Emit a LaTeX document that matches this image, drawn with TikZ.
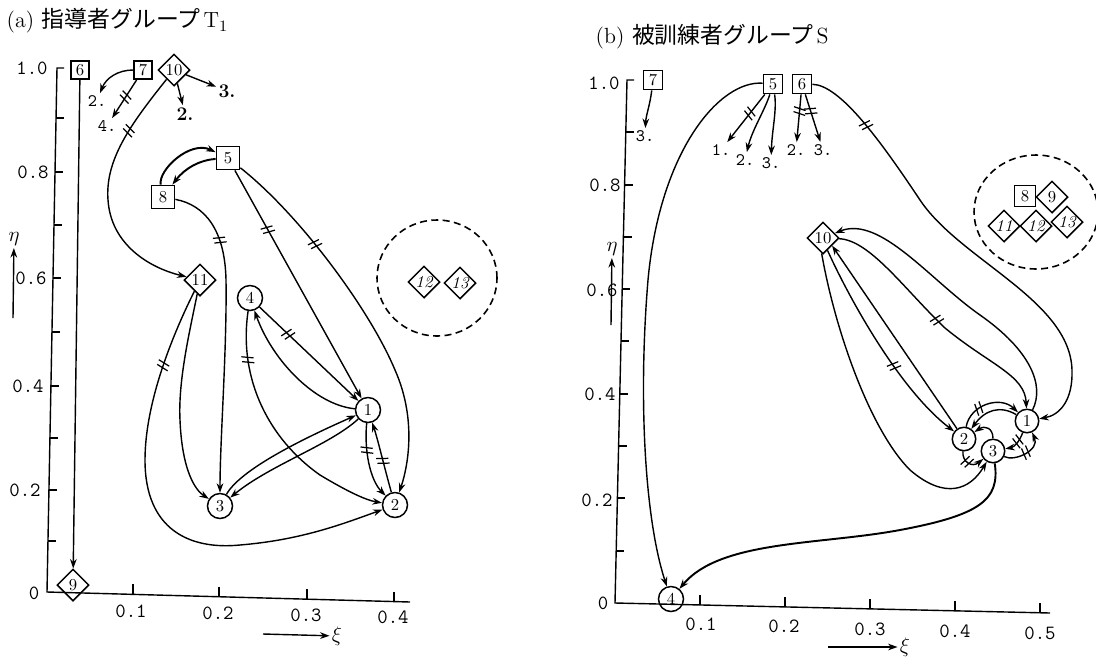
\documentclass[tikz,border=0pt]{standalone}
\usepackage{fontspec}
\newfontfamily\cjk{Noto Sans CJK JP}
\usetikzlibrary{arrows.meta,shapes.geometric,decorations.markings}
\begin{document}
\begin{tikzpicture}[x=0.02cm,y=-0.02cm,line width=0.8pt,
  >={Stealth[length=5.4pt,width=3.8pt]},
  nd/.style={draw,line width=0.85pt,inner sep=0pt,font=\fontsize{9.5}{10}\selectfont},
  circ/.style={nd,circle,minimum size=0.5cm},
  circs/.style={nd,circle,minimum size=0.47cm},
  sqbig/.style={nd,rectangle,minimum size=0.46cm,line width=1pt},
  sqmid/.style={nd,rectangle,minimum size=0.42cm,line width=1pt},
  sqsm/.style={nd,rectangle,minimum size=0.36cm,line width=1pt},
  dia/.style={nd,diamond,minimum size=0.64cm},
  itdia/.style={dia,font=\fontsize{9.5}{10}\selectfont\itshape},
  dashring/.style={draw,ellipse,dashed,dash pattern=on 4pt off 2.5pt,line width=0.9pt,inner sep=0pt},
  ttl/.style={inner sep=1pt,font=\ttfamily\fontsize{10}{10}\selectfont},
  bdl/.style={inner sep=1pt,font=\bfseries\fontsize{11}{11}\selectfont},
  axl/.style={inner sep=0pt,font=\ttfamily\fontsize{11.5}{11.5}\selectfont},
  greek/.style={inner sep=1pt,font=\fontsize{12}{12}\selectfont},
  thick arc/.style={line width=1.1pt},
  hashmk/.style={postaction={decorate,decoration={markings,
     mark=at position #1 with {\draw[-,line width=0.7pt] (-2.2pt,-3.4pt)--(-0.6pt,3.4pt) (0.6pt,-3.4pt)--(2.2pt,3.4pt);}}}}
]
\useasboundingbox (0,0) rectangle (1096,657);

% ---------------- titles ----------------
\node[anchor=west,inner sep=0pt,font=\fontsize{12.5}{14}\selectfont] (tA) at (6,21)
  {(a)\hspace{0.35em}{\cjk\fontsize{13}{14}\selectfont 指導者グループ}\hspace{0.15em}$\mathrm{T}_1$};
\node[anchor=west,inner sep=0pt,font=\fontsize{12.5}{14}\selectfont] (tB) at (595,37)
  {(b)\hspace{0.35em}{\cjk\fontsize{13}{14}\selectfont 被訓練者グループ}\hspace{0.15em}S};

% ---------------- axes (a) ----------------
\draw (64,68) -- (57,68) -- (47,592) -- (410,602);
\foreach \yy/\xx in {118/56,172/55,225/54,278/53,332/52,386/51,438/50,490/49,541/48}
  \draw (\xx,\yy) -- ++(8,0);
\foreach \xx/\yy in {133/594.4,219/596.7,307/599.2,394/601.6}
  \draw (\xx,\yy) -- ++(0,-10);
\node[axl] (ya10) at (32,68) {1.0};
\node[axl] (ya08) at (33,172) {0.8};
\node[axl] (ya06) at (31,278) {0.6};
\node[axl] (ya04) at (28,386) {0.4};
\node[axl] (ya02) at (25,490) {0.2};
\node[axl] (ya00) at (34,593) {0};
\node[axl] (xa01) at (131,611) {0.1};
\node[axl] (xa02) at (218,613) {0.2};
\node[axl] (xa03) at (306,615) {0.3};
\node[axl] (xa04) at (393,617) {0.4};
\node[greek] (etaA) at (14,239) {$\eta$};
\coordinate (etaA0) at (13,318);
\draw[->] (etaA0) -- (etaA);
\node[greek] (xiA) at (337,636) {$\xi$};
\coordinate (xiA0) at (263,634);
\draw[->] (xiA0) -- (xiA);

% ---------------- nodes (a) ----------------
\node[circ] (a1) at (368,410) {1};
\node[circ] (a2) at (395,505) {2};
\node[circ] (a3) at (220,506) {3};
\node[circ] (a4) at (250,298) {4};
\node[sqbig] (a5) at (228,158) {5};
\node[sqbig] (a8) at (163,197) {8};
\node[sqsm] (a6) at (80,70) {6};
\node[sqsm] (a7) at (143,70) {7};
\node[dia] (a10) at (174,70) {10};
\node[dia] (a11) at (200,280) {11};
\node[dia] (a9) at (73,585) {9};
\node[dashring,minimum width=2.4cm,minimum height=2.32cm] (ca) at (437,278) {};
\node[itdia] (a12) at (424,282) {12};
\node[itdia] (a13) at (460,283) {13};

\node[ttl] (la72) at (97,101) {2.};
\node[ttl] (la74) at (107,126) {4.};
\node[bdl] (la102) at (185,114) {2.};
\node[bdl] (la103) at (227,91) {3.};

% ---------------- edges (a) ----------------
\draw[->] (a6) -- (a9);
\draw[->] (a7) .. controls (118,70) and (106,78) .. (la72);
\draw[->,hashmk=0.45] (a7) -- (la74);
\draw[->] (a10) -- (la102);
\draw[->] (a10) -- (la103);
\draw[->,hashmk=0.25] (a10) .. controls (130,125) and (105,160) .. (108,200)
   .. controls (111,245) and (150,268) .. (a11);
\draw[->,thick arc] (a8) .. controls (158,170) and (190,140) .. (a5);
\draw[->,thick arc] (a5) .. controls (200,160) and (185,168) .. (a8);
\draw[->,hashmk=0.2] (a8) .. controls (205,205) and (225,230) .. (226,280)
   .. controls (227,350) and (220,440) .. (a3);
\draw[->,hashmk=0.26] (a5) -- (a1);
\draw[->,hashmk=0.28] (a5) .. controls (300,215) and (370,310) .. (395,370)
   .. controls (415,415) and (410,460) .. (a2);
\draw[->,hashmk=0.29] (a4) -- (a1);
\draw[->] (a1) .. controls (315,405) and (272,360) .. (a4);
\draw[->,hashmk=0.19] (a4) .. controls (238,380) and (270,440) .. (320,475)
   .. controls (345,490) and (365,500) .. (a2);
\draw[->] (a3) .. controls (240,470) and (300,440) .. (a1);
\draw[->] (a1) .. controls (330,445) and (270,465) .. (a3);
\draw[->,hashmk=0.35] (a1) .. controls (364,450) and (370,480) .. (a2);
\draw[->,hashmk=0.45] (a2) .. controls (385,470) and (378,440) .. (a1);
\draw[->] (a11) .. controls (190,330) and (178,380) .. (180,420)
   .. controls (182,470) and (195,490) .. (a3);
\draw[->,hashmk=0.17] (a11) .. controls (175,330) and (145,400) .. (145,460)
   .. controls (145,530) and (190,550) .. (240,545)
   .. controls (300,540) and (340,525) .. (a2);

% ---------------- axes (b) ----------------
\draw (634,80) -- (627,80) -- (615,603) -- (1050,613);
\foreach \yy/\xx in {132/626,185/625,237/624,289/622,341/621,394/620,446/619,498/617,551/616}
  \draw (\xx,\yy) -- ++(8,0);
\foreach \xx/\yy in {700/605,785/606.9,870/608.9,955/610.8,1040/612.8}
  \draw (\xx,\yy) -- ++(0,-10);
\node[axl] (yb10) at (604,83) {1.0};
\node[axl] (yb08) at (605,185) {0.8};
\node[axl] (yb06) at (602,290) {0.6};
\node[axl] (yb04) at (600,394) {0.4};
\node[axl] (yb02) at (597,500) {0.2};
\node[axl] (yb00) at (603,603) {0};
\node[axl] (xb01) at (701,624) {0.1};
\node[axl] (xb02) at (784,626) {0.2};
\node[axl] (xb03) at (870,629) {0.3};
\node[axl] (xb04) at (955,631) {0.4};
\node[axl] (xb05) at (1040,633) {0.5};
\node[greek] (etaB) at (612,249) {$\eta$};
\coordinate (etaB0) at (611,325);
\draw[->] (etaB0) -- (etaB);
\node[greek] (xiB) at (905,647) {$\xi$};
\coordinate (xiB0) at (828,647);
\draw[->] (xiB0) -- (xiB);

% ---------------- nodes (b) ----------------
\node[sqsm,minimum size=0.38cm] (b7) at (653,80) {7};
\node[sqsm,minimum size=0.38cm] (b5) at (773,84) {5};
\node[sqsm,minimum size=0.38cm] (b6) at (802,84) {6};
\node[circ] (b4) at (671,599) {4};
\node[circs] (b1) at (1027,421) {1};
\node[circs] (b2) at (964,439) {2};
\node[circs] (b3) at (993,451) {3};
\node[dia] (b10) at (823,238) {10};
\node[dashring,minimum width=2.48cm,minimum height=2.28cm] (cb) at (1036,212) {};
\node[sqmid] (b8) at (1025,196) {8};
\node[dia] (b9) at (1052,197) {9};
\node[itdia] (b11) at (1004,226) {11};
\node[itdia] (b12) at (1036,226) {12};
\node[itdia] (b13) at (1067,222) {13};

\node[ttl] (lb73) at (645,136) {3.};
\node[ttl] (lb51) at (721,150) {1.};
\node[ttl] (lb52) at (745,160) {2.};
\node[ttl] (lb53) at (771,163) {3.};
\node[ttl] (lb62) at (796,150) {2.};
\node[ttl] (lb63) at (823,150) {3.};

% ---------------- edges (b) ----------------
\draw[->] (b7) .. controls (650,105) and (646,115) .. (lb73);
\draw[->,hashmk=0.4] (b5) -- (lb51);
\draw[->] (b5) .. controls (765,110) and (752,130) .. (lb52);
\draw[->] (b5) .. controls (777,110) and (772,130) .. (lb53);
\draw[->,hashmk=0.35] (b6) -- (lb62);
\draw[->,hashmk=0.35] (b6) -- (lb63);
\draw[->] (b5) .. controls (720,80) and (660,150) .. (648,280)
   .. controls (638,400) and (645,520) .. (b4);
\draw[->,hashmk=0.15] (b6) .. controls (840,85) and (880,140) .. (920,200)
   .. controls (960,260) and (1070,300) .. (1072,370)
   .. controls (1073,400) and (1060,415) .. (b1);
\draw[->,hashmk=0.5] (b10) .. controls (870,240) and (905,290) .. (945,328)
   .. controls (990,365) and (1025,375) .. (b1);
\draw[->] (b1) .. controls (1045,385) and (1030,350) .. (980,315)
   .. controls (930,280) and (880,215) .. (b10);
\draw[->,hashmk=0.6] (b10.290) .. controls (850,300) and (900,390) .. (b2);
\draw[->] (b2) -- (b10.320);
\draw[->] (b10.265) .. controls (835,330) and (870,430) .. (910,470)
   .. controls (945,500) and (970,490) .. (b3);
\draw[->,hashmk=0.35] (b2) .. controls (970,405) and (1000,395) .. (b1);
\draw[->] (b1) .. controls (1000,405) and (985,410) .. (b2);
\draw[->] (b3) .. controls (993,428) and (985,425) .. (b2);
\draw[->,hashmk=0.4] (b1) .. controls (1020,440) and (1015,447) .. (b3);
\draw[->,hashmk=0.5] (b3) .. controls (1015,462) and (1040,450) .. (b1);
\draw[->,hashmk=0.4] (b2) .. controls (962,462) and (972,468) .. (b3);
\draw[->,thick arc] (b3) .. controls (1000,500) and (980,515) .. (900,530)
   .. controls (820,545) and (720,540) .. (b4);
\end{tikzpicture}
\end{document}
